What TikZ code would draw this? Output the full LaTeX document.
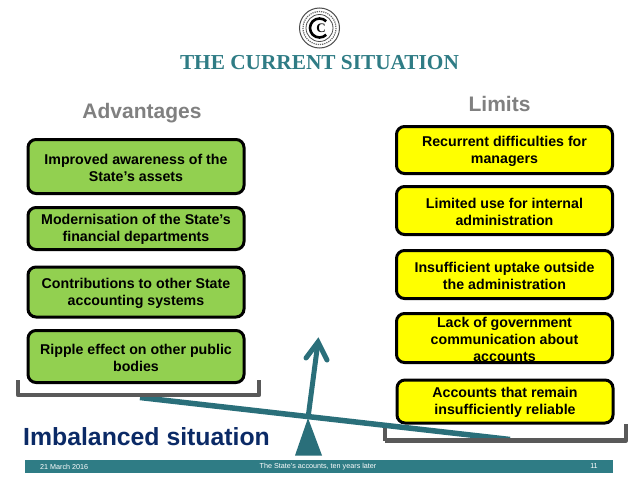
\documentclass[tikz,border=0pt]{standalone}
\usepackage{fontspec}
\setmainfont{Liberation Sans}
\newfontfamily\serifbold{Liberation Serif}
\definecolor{teal}{HTML}{2F7C85}
\definecolor{beam}{HTML}{2A6F7A}
\definecolor{grn}{HTML}{92D050}
\definecolor{yel}{HTML}{FFFF00}
\definecolor{brk}{HTML}{595959}
\definecolor{gry}{HTML}{808080}
\definecolor{navy}{HTML}{0B2A66}
\newcommand{\lowr}{\rule{0pt}{12.2pt}}
\tikzset{
  x=1pt,y=-1pt,
  box/.style={draw=black,line width=3pt,rounded corners=8pt,align=center,text=black,
    font=\fontsize{14.2}{17}\selectfont\bfseries,inner sep=0pt},
  gbox/.style={box,fill=grn,minimum width=216pt},
  ybox/.style={box,fill=yel,minimum width=216pt},
  head/.style={text=gry,font=\fontsize{21}{24}\selectfont\bfseries},
  foot/.style={text=white,font=\fontsize{7.2}{9}\selectfont},
  bracket/.style={draw=brk,line width=4.6pt,line join=round}
}
\begin{document}
\begin{tikzpicture}
\useasboundingbox (0,0) rectangle (638,479);
\fill[white] (0,0) rectangle (638,479);
% logo
\node[circle,draw=black!70,line width=1pt,minimum size=40pt,inner sep=0pt] (logo) at (319.5,28) {};
\draw[black!60,line width=1.2pt,densely dotted] (logo.center) circle (16.5);
\draw[black!70,line width=.8pt] (logo.center) circle (13.5);
\draw[black,line width=2.6pt] ([shift={(45:9.5)}]logo.center) arc[start angle=45,end angle=315,radius=9.5];
\node[font=\serifbold\fontsize{13}{13}\selectfont\bfseries,inner sep=0pt] (logoc) at (321,28) {C};
\node[text=teal,font=\serifbold\fontsize{21.3}{24}\selectfont\bfseries] (title) at (319.5,63) {THE CURRENT SITUATION};
\node[head] (adv) at (142,113) {Advantages};
\node[head] (lim) at (499.5,104) {Limits};
% green
\node[gbox,minimum height=54pt] (g1) at (136,166.5) {\lowr Improved awareness of the\\State’s assets};
\node[gbox,minimum height=42pt] (g2) at (136,228.5) {\lowr Modernisation of the State’s\\financial departments};
\node[gbox,minimum height=50pt] (g3) at (136,292) {\lowr Contributions to other State\\accounting systems};
\node[gbox,minimum height=52pt] (g4) at (136,356.5) {\lowr Ripple effect on other public\\bodies};
% yellow
\node[ybox,minimum height=47pt] (y1) at (504.5,150) {\lowr Recurrent difficulties for\\managers};
\node[ybox,minimum height=48pt] (y2) at (504.5,210.5) {\lowr Limited use for internal\\administration};
\node[ybox,minimum height=48pt] (y3) at (504.5,274.5) {\lowr Insufficient uptake outside\\the administration};
\node[ybox,minimum height=49pt] (y4) at (504.5,338) {\lowr Lack of government\\communication about\\accounts};
\node[ybox,minimum height=43pt] (y5) at (505,401.5) {\lowr Accounts that remain\\insufficiently reliable};
% right bracket stub under beam
\draw[bracket] (385,424) -- (385,440.5);
% balance
\coordinate (pivot) at (308,418);
\coordinate (beamL) at (140,397.5);
\coordinate (beamR) at (510,439.5);
\draw[beam,line width=5.5pt] (beamL) -- (beamR);
\draw[beam,line width=5pt] (pivot) -- (318,342);
\draw[beam,line width=5pt,line cap=round,line join=miter] (306,358) -- (318,342) -- (327,360);
\fill[beam] (pivot) -- (322,455.5) -- (295,455.5) -- cycle;
% brackets
\draw[bracket] (18,380) -- (18,395) -- (259,395) -- (259,380);
\draw[bracket] (385,440.5) -- (626,440.5) -- (626,424);
\node[text=navy,anchor=west,font=\fontsize{24.8}{28}\selectfont\bfseries,inner sep=0pt] (imb) at (23,437) {Imbalanced situation};
% footer
\fill[teal] (25,460) rectangle (613,472.5);
\node[foot,anchor=west,inner sep=0pt] (d) at (40,466.5) {21 March 2016};
\node[foot,inner sep=0pt] (m) at (318,466.5) {The State’s accounts, ten years later};
\node[foot,inner sep=0pt] (p) at (594,466.5) {11};
\end{tikzpicture}
\end{document}
